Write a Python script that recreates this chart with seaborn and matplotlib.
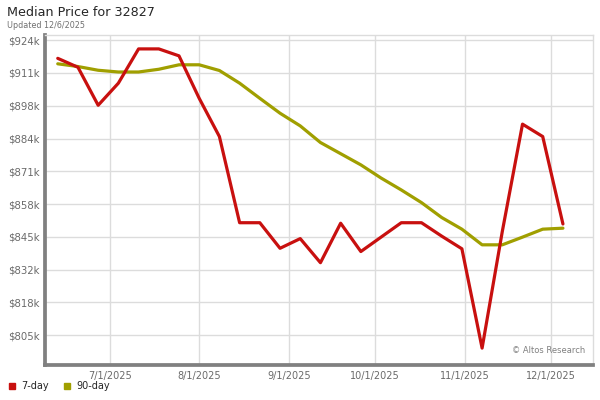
import pandas as pd
import matplotlib.pyplot as plt
import matplotlib.dates as mdates
import matplotlib.ticker as mticker
from matplotlib.lines import Line2D
import seaborn as sns

# weekly dates (Fridays)
dates = ['2025-06-13', '2025-06-20', '2025-06-27', '2025-07-04', '2025-07-11',
         '2025-07-18', '2025-07-25', '2025-08-01', '2025-08-08', '2025-08-15',
         '2025-08-22', '2025-08-29', '2025-09-05', '2025-09-12', '2025-09-19',
         '2025-09-26', '2025-10-03', '2025-10-10', '2025-10-17', '2025-10-24',
         '2025-10-31', '2025-11-07', '2025-11-14', '2025-11-21', '2025-11-28',
         '2025-12-05']

# median price in $k
seven_day = [916.7, 913.1, 897.8, 906.7, 920.5, 920.5, 917.7, 900.6, 885.2, 850.5,
             850.5, 840.2, 844.1, 834.4, 850.3, 838.9, 844.7, 850.5, 850.5, 845.1,
             840.0, 800.0, 847.0, 890.2, 885.2, 850.0]
ninety_day = [914.5, 913.4, 911.9, 911.2, 911.2, 912.3, 914.1, 914.1, 911.8, 906.7,
              900.6, 894.6, 889.5, 882.8, 878.3, 873.8, 868.5, 863.7, 858.6, 852.6,
              847.9, 841.6, 841.6, 844.7, 847.9, 848.3]

y_ticks = [805.2, 818.4, 831.6, 844.8, 858.0, 871.2, 884.4, 897.6, 910.8, 924.0]
x_ticks = ['2025-07-01', '2025-08-01', '2025-09-01', '2025-10-01', '2025-11-01', '2025-12-01']

series_names = ['7-day', '90-day']
colors = {'7-day': '#c8100f', '90-day': '#a09f00'}

df = pd.DataFrame({
    'date': pd.to_datetime(dates * 2),
    'price': seven_day + ninety_day,
    'series': ['7-day'] * len(dates) + ['90-day'] * len(dates),
})

sns.set_style('white')
plt.rcParams['font.family'] = ['DejaVu Sans']

fig = plt.figure(figsize=(6, 4), dpi=100)
ax = fig.add_axes([45 / 600, 1 - 365 / 400, 548 / 600, 330 / 400])

sns.lineplot(data=df, x='date', y='price', hue='series', hue_order=series_names[::-1],
             palette=colors, linewidth=2.3, ax=ax, legend=False)

ax.set_xlim(pd.Timestamp('2025-06-08 14:00'), pd.Timestamp('2025-12-15 10:00'))
ax.set_ylim(793.2, 926.1)
ax.set_xticks(pd.to_datetime(x_ticks))
ax.xaxis.set_major_formatter(mdates.DateFormatter('%-m/%-d/%Y'))
ax.set_yticks(y_ticks)
ax.yaxis.set_major_formatter(mticker.FuncFormatter(lambda v, p: f'${v:.0f}k'))
ax.tick_params(axis='both', length=0, labelsize=7, labelcolor='#6a6a6a', pad=4)
ax.tick_params(axis='y', labelsize=7.3)
ax.set_xlabel('')
ax.set_ylabel('')
ax.grid(True, color='#dcdcdc', linewidth=1)

for side in ['top', 'right']:
    ax.spines[side].set_color('#dcdcdc')
    ax.spines[side].set_linewidth(1)
for side in ['left', 'bottom']:
    ax.spines[side].set_color('#808080')
    ax.spines[side].set_linewidth(2.7)

ax.text(0.985, 0.03, '© Altos Research', transform=ax.transAxes, ha='right', va='bottom',
        fontsize=6, color='#808080')

fig.text(7 / 600, 1 - 12 / 400, 'Median Price for 32827', fontsize=9.2, va='center', ha='left')
fig.text(7 / 600, 1 - 25 / 400, 'Updated 12/6/2025', fontsize=5.8, color='#707070',
         va='center', ha='left')

handles = [Line2D([], [], marker='s', linestyle='', color=colors[n], markersize=5) for n in series_names]
fig.legend(handles, series_names, loc='center left', bbox_to_anchor=(0.005, 1 - 386 / 400),
           ncol=2, frameon=False, fontsize=7, handletextpad=0.5, columnspacing=1.3,
           borderaxespad=0, handlelength=1)

plt.savefig('out.png', dpi=100)
